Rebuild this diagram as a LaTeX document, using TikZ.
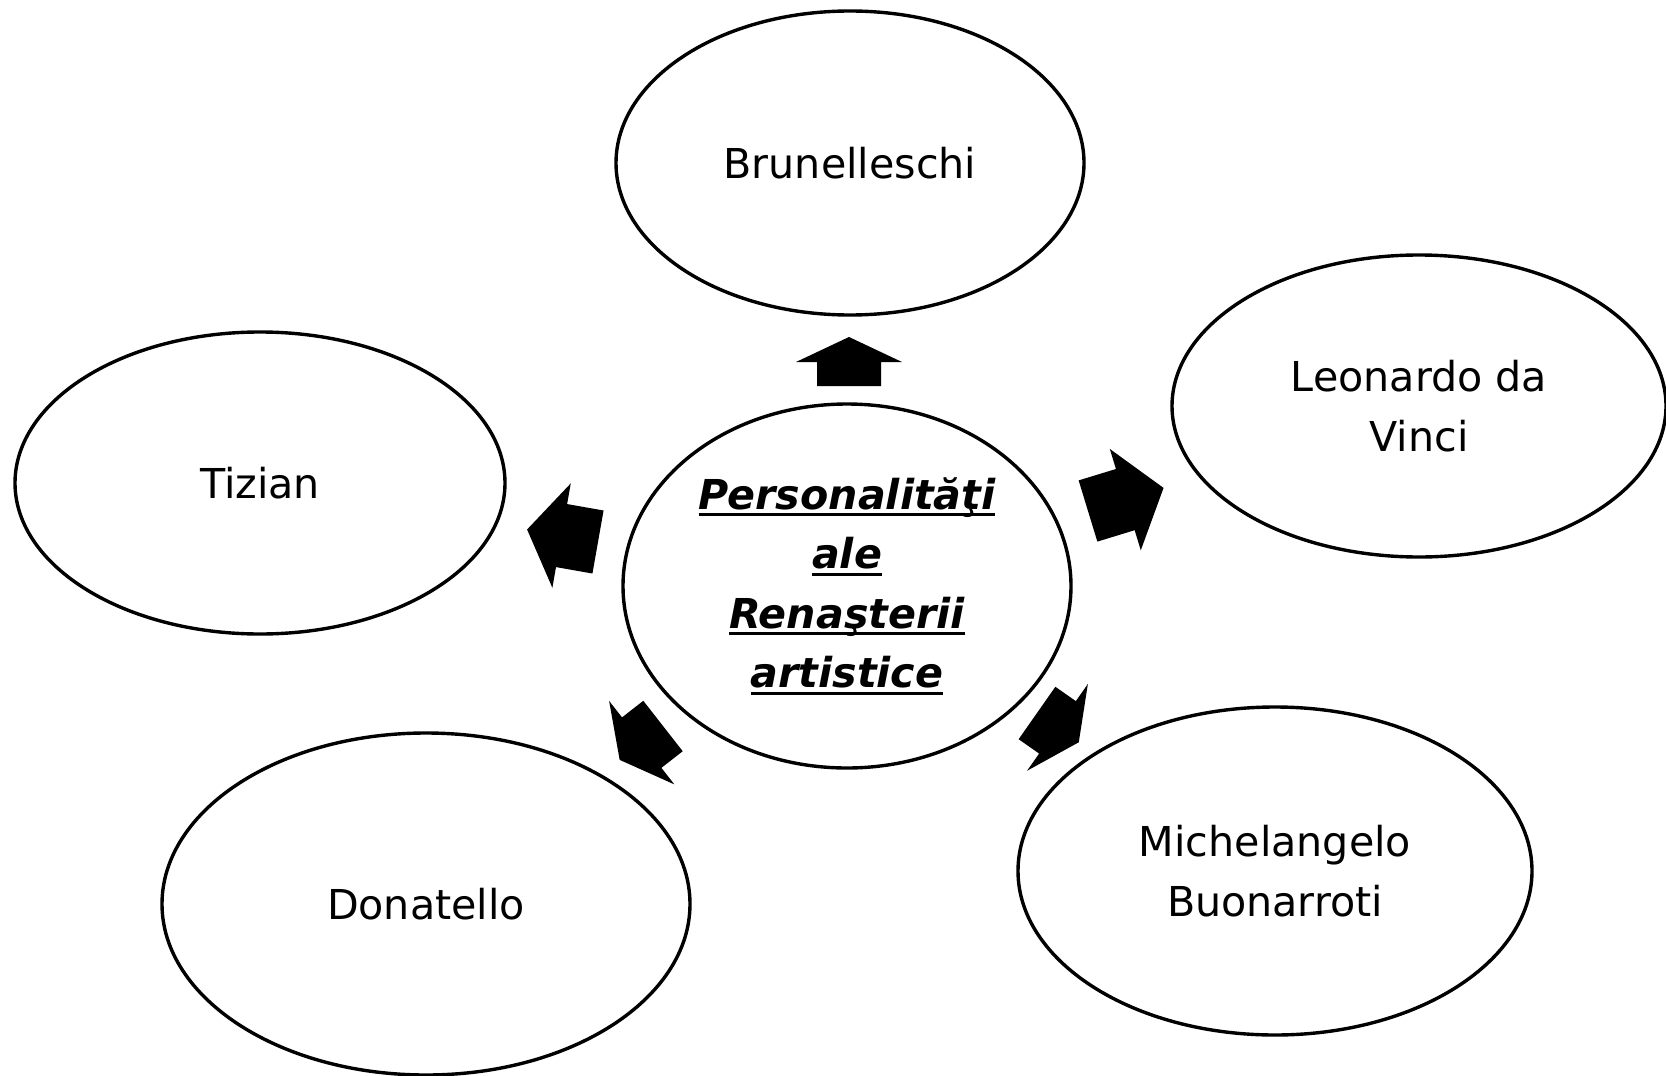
\documentclass[tikz,border=0pt]{standalone}
\usepackage{fontspec}
\setmainfont{DejaVu Sans}[ItalicFont={DejaVu Sans Oblique},BoldFont={DejaVu Sans Bold},BoldItalicFont={DejaVu Sans Bold Oblique}]
\usetikzlibrary{shapes.geometric}
\newcommand\thickul[1]{\setbox0\hbox{#1}\leavevmode\rlap{\copy0}\rule[-3.5pt]{\wd0}{1.5pt}}
\newcommand\barrow[5]{%
  \fill[blockarrow,shift={(#1,#2)},rotate=#3] (0,-32) -- ({#4-#5},-32) -- ({#4-#5},-53) -- (#4,0) -- ({#4-#5},53) -- ({#4-#5},32) -- (0,32) -- cycle;}
\begin{document}
\begin{tikzpicture}[x=0.5pt,y=-0.5pt,
  bubble/.style={ellipse, draw, line width=1.7pt, inner sep=0pt, outer sep=0pt, align=center, font=\fontsize{20.6}{29.75}\selectfont},
  blockarrow/.style={fill=black}]
\useasboundingbox (0,0) rectangle (1666,1076);
\node[bubble, minimum width=234pt, minimum height=152pt] (bru) at (850,163) {Brunelleschi};
\node[bubble, minimum width=247pt, minimum height=151pt] (leo) at (1419,406) {Leonardo da\\Vinci};
\node[bubble, minimum width=245pt, minimum height=151pt] (tiz) at (260,483) {Tizian};
\node[bubble, minimum width=264pt, minimum height=171pt] (don) at (426,904) {Donatello};
\node[bubble, minimum width=257pt, minimum height=164pt] (mic) at (1275,871) {Michelangelo\\Buonarroti};
\node[bubble, minimum width=224pt, minimum height=182pt, font=\fontsize{20.6}{29.75}\selectfont\bfseries\itshape] (center) at (847,586)
  {\thickul{Personalităţi}\\\thickul{ale}\\\thickul{Renaşterii}\\\thickul{artistice}};
\barrow{849}{386}{90}{49}{25}
\barrow{598}{542}{170}{72}{35}
\barrow{1088}{511}{17}{79}{40}
\barrow{663}{726}{218}{55}{28}
\barrow{1037}{713}{-35}{51}{26}
\end{tikzpicture}
\end{document}
